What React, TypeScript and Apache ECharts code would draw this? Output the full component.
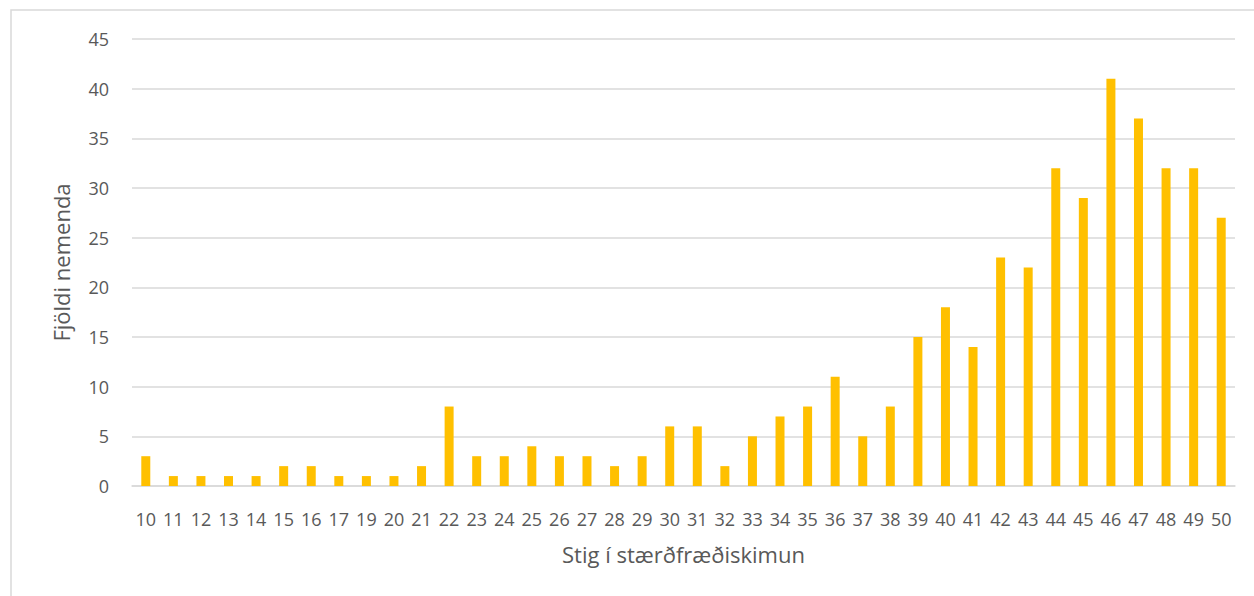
import React, { useEffect, useRef } from "react";
import * as echarts from "echarts";

const categories = ["10","11","12","13","14","15","16","17","19","20","21","22","23","24","25","26","27","28","29","30","31","32","33","34","35","36","37","38","39","40","41","42","43","44","45","46","47","48","49","50"];
const counts = [3,1,1,1,1,2,2,1,1,1,2,8,3,3,4,3,3,2,3,6,6,2,5,7,8,11,5,8,15,18,14,23,22,32,29,41,37,32,32,27];
const xTitle = "Stig í stærðfræðiskimun";
const yTitle = "Fjöldi nemenda";

export default function App() {
  const ref = useRef<HTMLDivElement>(null);
  useEffect(() => {
    if (!ref.current) return;
    const chart = echarts.init(ref.current, undefined, { renderer: "svg" });
    const font = "'Open Sans', 'Noto Sans', sans-serif";
    chart.setOption({
      animation: false,
      backgroundColor: "#ffffff",
      graphic: [
        {
          type: "rect",
          shape: { x: 11, y: 10, width: 1270, height: 620 },
          style: { fill: "none", stroke: "#d9d9d9", lineWidth: 1.5 },
          silent: true,
        },
      ],
      grid: { left: 132, right: 19, top: 39, bottom: 110, containLabel: false },
      xAxis: {
        type: "category",
        data: categories,
        name: xTitle,
        nameLocation: "middle",
        nameGap: 57,
        nameTextStyle: { color: "#595959", fontSize: 22, fontFamily: font },
        axisLine: { show: true, lineStyle: { color: "#d9d9d9", width: 1.5 } },
        axisTick: { show: false },
        axisLabel: { interval: 0, color: "#595959", fontSize: 18, fontFamily: font, margin: 24 },
      },
      yAxis: {
        type: "value",
        min: 0,
        max: 45,
        interval: 5,
        name: yTitle,
        nameLocation: "middle",
        nameGap: 60,
        nameTextStyle: { color: "#595959", fontSize: 22, fontFamily: font },
        axisLine: { show: false },
        axisTick: { show: false },
        axisLabel: { color: "#595959", fontSize: 18, fontFamily: font, margin: 23 },
        splitLine: { lineStyle: { color: "#d9d9d9", width: 1.5 } },
      },
      series: [
        {
          type: "bar",
          data: counts,
          barWidth: 9,
          itemStyle: { color: "#FFC000" },
        },
      ],
    });
    return () => chart.dispose();
  }, []);
  return (
    <div
      ref={ref}
      style={{ position: "fixed", left: 0, top: 0, width: 1254, height: 596 }}
    />
  );
}
